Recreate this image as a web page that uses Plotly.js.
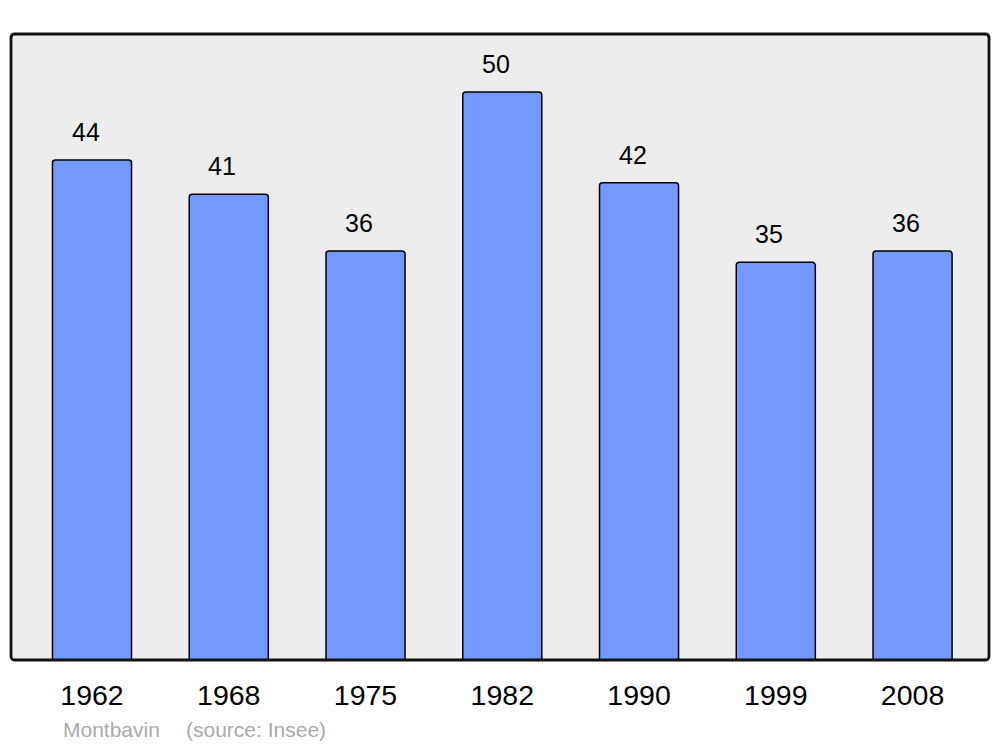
<!DOCTYPE html>
<html>
<head>
<meta charset="utf-8">
<script src="https://cdn.plot.ly/plotly-3.0.1.min.js"></script>
<style>html,body{margin:0;padding:0;background:#fff;}#chart{width:1000px;height:747px;}</style>
</head>
<body>
<div id="chart"></div>
<script>
const years = ["1962", "1968", "1975", "1982", "1990", "1999", "2008"];
const population = [44, 41, 36, 50, 42, 35, 36];
const commune = "Montbavin";
const sourceText = "(source: Insee)";

const idx = years.map((_, i) => i);
const W = 978, H = 626;
const r = 4, rx = r / W, ry = r / H;
const framePath =
  `M ${rx} 0 L ${1 - rx} 0 Q 1 0 1 ${ry} L 1 ${1 - ry} Q 1 1 ${1 - rx} 1 L ${rx} 1 Q 0 1 0 ${1 - ry} L 0 ${ry} Q 0 0 ${rx} 0 Z`;

const trace = {
  type: "bar",
  x: idx,
  y: population,
  width: 0.578,
  marker: { color: "#7399ff", line: { color: "#000", width: 1.5 }, cornerradius: 3 },
  hoverinfo: "none"
};

const annotations = population.map((v, i) => ({
  x: i, y: v, xref: "x", yref: "y",
  text: String(v), showarrow: false,
  xanchor: "center", yanchor: "middle",
  xshift: -6.5, yshift: 28,
  font: { family: "Liberation Sans, Arial, sans-serif", size: 25, color: "#000" }
}));
annotations.push({
  x: (61 - 11) / W, y: -(729 - 660) / H, xref: "paper", yref: "paper",
  text: commune, showarrow: false, xanchor: "left", yanchor: "middle",
  font: { family: "Liberation Sans, Arial, sans-serif", size: 21, color: "#aaaaaa" }
});
annotations.push({
  x: (184 - 11) / W, y: -(729 - 660) / H, xref: "paper", yref: "paper",
  text: sourceText, showarrow: false, xanchor: "left", yanchor: "middle",
  font: { family: "Liberation Sans, Arial, sans-serif", size: 21, color: "#aaaaaa" }
});

const layout = {
  width: 1000, height: 747,
  margin: { l: 11, r: 11, t: 34, b: 87 },
  paper_bgcolor: "#ffffff",
  plot_bgcolor: "#ededed",
  showlegend: false,
  xaxis: {
    range: [-0.5923, 6.559],
    tickmode: "array", tickvals: idx, ticktext: years,
    showgrid: false, zeroline: false, showline: false, ticks: "",
    ticklabelstandoff: 15,
    tickfont: { family: "Liberation Sans, Arial, sans-serif", size: 28.5, color: "#000" },
    fixedrange: true
  },
  yaxis: {
    range: [0, 55.1],
    showgrid: false, zeroline: false, showline: false, showticklabels: false, ticks: "",
    fixedrange: true
  },
  shapes: [{
    type: "path", xref: "paper", yref: "paper", path: framePath,
    line: { color: "#111", width: 2.8 }, layer: "above"
  }],
  annotations: annotations
};

Plotly.newPlot("chart", [trace], layout, { staticPlot: true, displayModeBar: false });
</script>
</body>
</html>
